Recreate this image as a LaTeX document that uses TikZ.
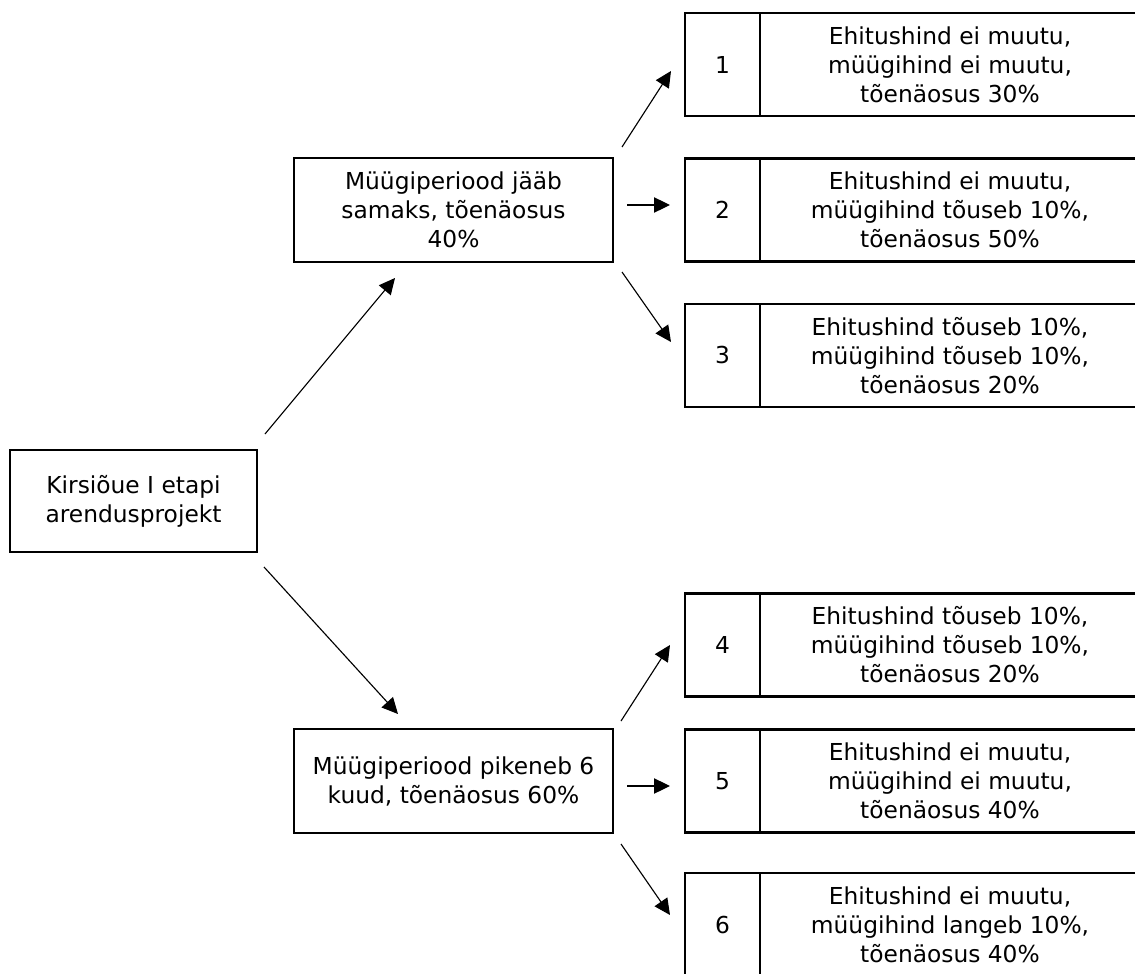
\documentclass[tikz,border=0pt]{standalone}
\usepackage{fontspec}
\setmainfont{DejaVu Sans}
\usetikzlibrary{arrows.meta}
\begin{document}
\begin{tikzpicture}[x=0.75pt,y=-0.75pt,
  box/.style={draw=black,line width=2.2pt,inner sep=0pt,align=center,
    font=\fontsize{17.5pt}{21.75pt}\selectfont},
  numcell/.style={box,minimum width=56.25pt,minimum height=77.25pt},
  txtcell/.style={box,minimum width=285pt,minimum height=77.25pt},
  conn/.style={line width=0.85pt,-{Triangle[length=12pt,width=11.5pt]}}]
\clip (0,0) rectangle (1135,974);
\fill[white] (0,0) rectangle (1135,974);
% root and middle nodes
\node[box,minimum width=185.25pt,minimum height=76.5pt] (root) at (133.5,501) {Kirsiõue I etapi\\arendusprojekt};
\node[box,minimum width=239.25pt,minimum height=78pt] (up) at (453.5,210) {Müügiperiood jääb\\samaks, tõenäosus\\40\%};
\node[box,minimum width=239.25pt,minimum height=78pt] (lo) at (453.5,781) {Müügiperiood pikeneb 6\\kuud, tõenäosus 60\%};
% outcome boxes
\node[txtcell] (t1) at (950,64.5) {Ehitushind ei muutu,\\müügihind ei muutu,\\tõenäosus 30\%};
\node[numcell] (n1) at (722.5,64.5) {1};
\node[txtcell] (t2) at (950,210) {Ehitushind ei muutu,\\müügihind tõuseb 10\%,\\tõenäosus 50\%};
\node[numcell] (n2) at (722.5,210) {2};
\node[txtcell] (t3) at (950,355.5) {Ehitushind tõuseb 10\%,\\müügihind tõuseb 10\%,\\tõenäosus 20\%};
\node[numcell] (n3) at (722.5,355.5) {3};
\node[txtcell] (t4) at (950,645) {Ehitushind tõuseb 10\%,\\müügihind tõuseb 10\%,\\tõenäosus 20\%};
\node[numcell] (n4) at (722.5,645) {4};
\node[txtcell] (t5) at (950,781) {Ehitushind ei muutu,\\müügihind ei muutu,\\tõenäosus 40\%};
\node[numcell] (n5) at (722.5,781) {5};
\node[txtcell] (t6) at (950,924.5) {Ehitushind ei muutu,\\müügihind langeb 10\%,\\tõenäosus 40\%};
\node[numcell] (n6) at (722.5,924.5) {6};
% connector end points
\coordinate (rs1) at (265,434); \coordinate (ue) at (395,278);
\coordinate (rs2) at (264,567); \coordinate (le) at (398,714);
\coordinate (us1) at (622,147); \coordinate (e1) at (671,71);
\coordinate (us2) at (627,205); \coordinate (e2) at (670,205);
\coordinate (us3) at (622,272); \coordinate (e3) at (671,342);
\coordinate (ls1) at (621,721); \coordinate (e4) at (670,645);
\coordinate (ls2) at (627,786); \coordinate (e5) at (670,786);
\coordinate (ls3) at (621,844); \coordinate (e6) at (670,915);
\draw[conn] (rs1) -- (ue);
\draw[conn] (rs2) -- (le);
\draw[conn] (us1) -- (e1);
\draw[conn] (us2) -- (e2);
\draw[conn] (us3) -- (e3);
\draw[conn] (ls1) -- (e4);
\draw[conn] (ls2) -- (e5);
\draw[conn] (ls3) -- (e6);
\end{tikzpicture}
\end{document}
